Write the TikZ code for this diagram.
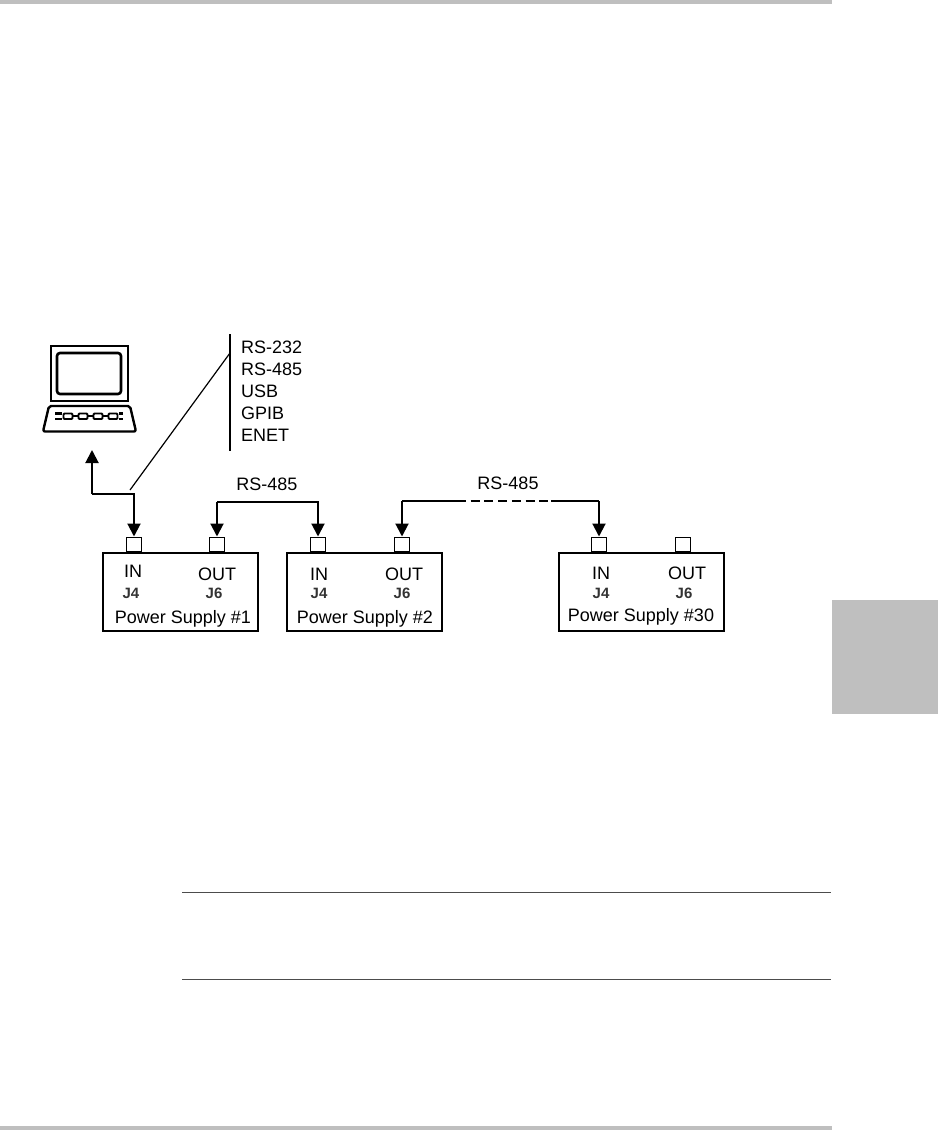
\documentclass[tikz,border=0pt]{standalone}
\usepackage{fontspec}
\setmainfont{Liberation Sans}
\usetikzlibrary{arrows.meta}
\definecolor{bargray}{gray}{0.75}
\tikzset{
  wire/.style={line width=2pt,-{Triangle[length=13pt,width=13pt]}},
  thinwire/.style={line width=1.1pt},
  psbox/.style={draw,line width=1.7pt,minimum width=155pt,minimum height=78pt,inner sep=0,anchor=north west},
  portbox/.style={draw,line width=1.5pt,minimum width=15pt,minimum height=14pt,inner sep=0,anchor=south},
  lab/.style={font=\fontsize{18}{20}\selectfont,inner sep=0,anchor=base},
  jlab/.style={font=\fontsize{15}{17}\bfseries\selectfont,inner sep=0,anchor=base,text=black!80},
}
\begin{document}
\begin{tikzpicture}[x=1pt,y=-1pt]
\useasboundingbox (0,0) rectangle (938,1130);
\fill[bargray] (0,0) rectangle (832,4);
\fill[bargray] (0,1126) rectangle (832,1130);
\fill[bargray] (832,600) rectangle (938,714);
\draw[line width=1pt,black!70] (182,892) -- (831,892);
\draw[line width=1pt,black!70] (182,979) -- (831,979);
% laptop
\draw[line width=2.6pt] (51,346) rectangle (128,401);
\draw[line width=2.6pt,rounded corners=3pt] (57,353) rectangle (121,394);
\draw[line width=2.4pt,line join=round,rounded corners=2pt] (49,406) -- (130,406) -- (136,431.5) -- (43,431.5) -- cycle;
\foreach \kx in {68,83,98,113}{
  \draw[line width=1.9pt,rounded corners=1pt] (\kx-4.5,413.5) rectangle (\kx+4.5,419);
}
\foreach \kx in {72.5,87.5,102.5}{
  \draw[line width=2.4pt] (\kx,416.2) -- (\kx+6,416.2);
}
\draw[line width=2.4pt] (55,413.5) -- (62,413.5);
\draw[line width=2.4pt] (55,419) -- (62,419);
\draw[line width=2.4pt] (119,413.5) -- (123,413.5);
\draw[line width=2.4pt] (119,419) -- (123,419);
% bus label
\draw[line width=1.4pt] (230,334) -- (230,451);
\node[lab,anchor=base west] (t1) at (241,353) {RS-232};
\node[lab,anchor=base west] (t2) at (241,375) {RS-485};
\node[lab,anchor=base west] (t3) at (241,397) {USB};
\node[lab,anchor=base west] (t4) at (241,419) {GPIB};
\node[lab,anchor=base west] (t5) at (241,441) {ENET};
\coordinate (busa) at (230,353);
\coordinate (busb) at (130,490);
\draw[line width=1.2pt] (busa) -- (busb);
% supplies
\node[psbox] (ps1) at (102,552) {};
\node[psbox] (ps2) at (286,552) {};
\node[psbox,minimum width=165pt] (ps3) at (558,552) {};
\node[portbox] (p1i) at (134,552) {};
\node[portbox] (p1o) at (217,552) {};
\node[portbox] (p2i) at (318,552) {};
\node[portbox] (p2o) at (402,552) {};
\node[portbox] (p3i) at (599,552) {};
\node[portbox] (p3o) at (683,552) {};
\node[lab] at (133,577) {IN};
\node[jlab] at (131,598) {J4};
\node[lab] at (217,580) {OUT};
\node[jlab] at (214,598) {J6};
\node[lab] at (183,623) {Power Supply \#1};
\node[lab] at (319,580) {IN};
\node[jlab] at (319,598) {J4};
\node[lab] at (404,580) {OUT};
\node[jlab] at (402,598) {J6};
\node[lab] at (365,623) {Power Supply \#2};
\node[lab] at (601,579) {IN};
\node[jlab] at (601,598) {J4};
\node[lab] at (687,579) {OUT};
\node[jlab] at (684,598) {J6};
\node[lab] at (641,621) {Power Supply \#30};
\node[lab] at (267,490) {RS-485};
\node[lab] at (508,489) {RS-485};
% connectors
\coordinate (bend) at (134,494);
\coordinate (up) at (92,450);
\draw[wire] (92,494) -- (up);
\draw[wire] (92,494) -- (bend) -- (p1i.north);
\coordinate (c1) at (217,502);
\coordinate (c2) at (318,502);
\draw[wire] (c1) -- (p1o.north);
\draw[wire] (c1) -- (c2) -- (p2i.north);
\coordinate (c3) at (402,501);
\coordinate (c4) at (599,501);
\coordinate (d1) at (457,501);
\coordinate (d2) at (551,501);
\draw[wire] (c3) -- (p2o.north);
\draw[thinwire] (c3) -- (d1);
\draw[line width=1.7pt,dash pattern=on 9pt off 4.7pt] (d1) -- (d2);
\draw[thinwire] (d2) -- (c4);
\draw[wire] (c4) -- (p3i.north);
\end{tikzpicture}
\end{document}
